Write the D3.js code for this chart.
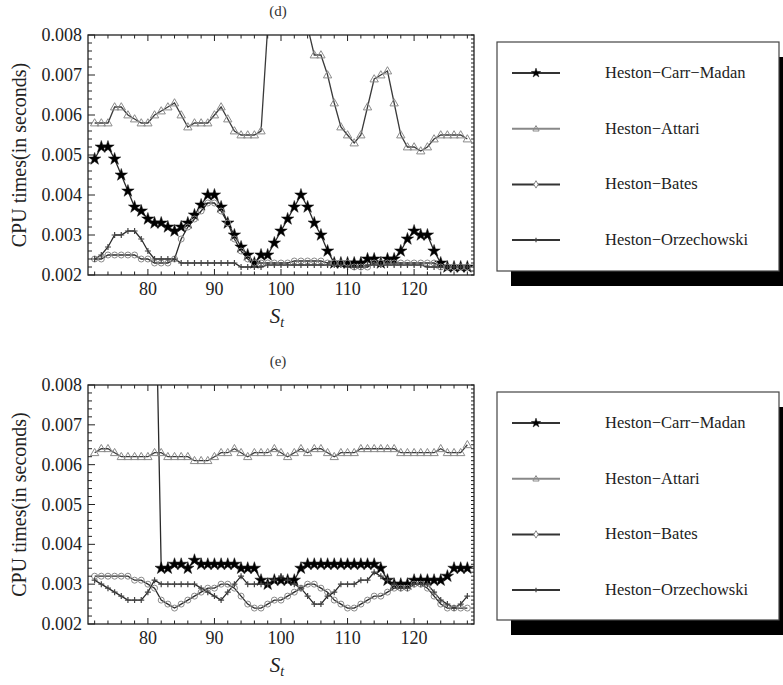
<!DOCTYPE html>
<html>
<head>
<meta charset="utf-8">
<script src="https://cdnjs.cloudflare.com/ajax/libs/d3/7.8.5/d3.min.js"></script>
<style>
body { margin: 0; background: #fff; }
svg { display: block; }
text { font-family: "Liberation Serif", "DejaVu Serif", serif; }
</style>
</head>
<body>
<svg id="chart" width="783" height="685"></svg>
<script>

// stock price grid (x values)
var stock = [72,73,74,75,76,77,78,79,80,81,82,83,84,85,86,87,88,89,90,91,92,93,94,95,96,97,98,99,100,
  101,102,103,104,105,106,107,108,109,110,111,112,113,114,115,116,117,118,119,120,121,122,123,124,125,126,127,128];

var seriesNames = ["Heston\u2212Carr\u2212Madan", "Heston\u2212Attari", "Heston\u2212Bates", "Heston\u2212Orzechowski"];
var panelTitles = ["(d)", "(e)"];
var xTicks = [80, 90, 100, 110, 120];
var yTicks = [0.002, 0.003, 0.004, 0.005, 0.006, 0.007, 0.008];

// panel (d)
var carrMadanD = [0.0049,0.0052,0.0052,0.0049,0.0045,0.0041,0.0037,0.0036,0.0034,0.0033,0.0033,0.0032,0.0031,0.0032,0.0033,0.0035,
  0.00375,0.0040,0.0040,0.0037,0.0033,0.0030,0.0027,0.0025,0.0023,0.0025,0.0025,0.0028,0.0031,0.0034,0.0037,0.0040,0.0037,0.0033,
  0.0030,0.0026,0.0023,0.0023,0.0023,0.0023,0.0023,0.0024,0.0024,0.0023,0.0024,0.0024,0.0026,0.0029,0.0031,0.0030,0.0030,0.0026,
  0.0023,0.0022,0.0022,0.0022,0.0022];
var attariD = [0.0058,0.0058,0.0058,0.0062,0.0062,0.0060,0.0059,0.0058,0.0058,0.0060,0.0061,0.0062,0.0063,0.0060,0.0057,0.0058,
  0.0058,0.0058,0.0060,0.0062,0.0059,0.0056,0.0055,0.0055,0.0055,0.0056,0.0082,0.0120,0.0120,0.0120,0.0120,0.0120,0.0082,0.0075,
  0.0075,0.0070,0.0063,0.0057,0.0055,0.0053,0.0055,0.0062,0.0069,0.0070,0.0071,0.0063,0.0055,0.0052,0.0052,0.0051,0.0052,0.0054,
  0.0055,0.0055,0.0055,0.0055,0.0054];
var batesD = [0.0024,0.0024,0.0025,0.0025,0.0025,0.0025,0.0025,0.0024,0.0024,0.0023,0.0023,0.0023,0.0024,0.0029,0.0032,0.0034,
  0.0036,0.0038,0.0038,0.0036,0.0033,0.0029,0.0026,0.0024,0.0023,0.0023,0.0023,0.0023,0.0023,0.0023,0.00235,0.00235,0.00235,0.00235,
  0.00235,0.0023,0.0023,0.0023,0.0023,0.0022,0.0022,0.0022,0.0023,0.0023,0.0023,0.0023,0.0023,0.0023,0.0023,0.0023,0.0023,0.0023,
  0.0022,0.0022,0.0022,0.0022,0.0022];
var orzD = [0.0024,0.0025,0.0027,0.0030,0.0030,0.0031,0.0031,0.0029,0.0026,0.0024,0.0024,0.0024,0.0024,0.0023,0.0023,0.0023,
  0.0023,0.0023,0.0023,0.0023,0.0023,0.0023,0.0022,0.0022,0.0022,0.0022,0.00225,0.00225,0.00225,0.00225,0.00225,0.00225,0.00225,0.00225,
  0.00225,0.00225,0.00225,0.00225,0.0022,0.0022,0.0022,0.00225,0.00225,0.00225,0.00225,0.00225,0.00225,0.00225,0.00225,0.00225,0.0022,
  0.0022,0.0022,0.0022,0.0022,0.0022,0.0022];

// panel (e)
var carrMadanE = [0.012,0.012,0.012,0.012,0.012,0.012,0.012,0.012,0.012,0.012,0.0034,0.0034,0.0035,0.0035,0.0034,0.0036,
  0.0035,0.0035,0.0035,0.0035,0.0035,0.0035,0.0034,0.0034,0.0034,0.0031,0.0030,0.0031,0.0031,0.0031,0.0031,0.0034,0.0035,0.0035,
  0.0035,0.0035,0.0035,0.0035,0.0035,0.0035,0.0035,0.0035,0.0035,0.0034,0.0031,0.0030,0.0030,0.0030,0.0031,0.0031,0.0031,0.0031,
  0.0031,0.0032,0.0034,0.0034,0.0034];
var attariE = [0.0063,0.0064,0.0064,0.0063,0.0062,0.0062,0.0062,0.0062,0.0062,0.0063,0.0063,0.0062,0.0062,0.0062,0.0062,0.0061,
  0.0061,0.0061,0.0062,0.0063,0.0063,0.0064,0.0063,0.0062,0.0063,0.0063,0.0063,0.0064,0.0063,0.0062,0.0063,0.0064,0.0063,0.0064,
  0.0064,0.0063,0.0062,0.0063,0.0063,0.0063,0.0064,0.0064,0.0064,0.0064,0.0064,0.0064,0.0063,0.0063,0.0063,0.0063,0.0063,0.0063,
  0.0064,0.0063,0.0063,0.0063,0.0065];
var batesE = [0.0032,0.0032,0.0032,0.0032,0.0032,0.0032,0.0031,0.0031,0.0030,0.0029,0.0026,0.0025,0.0024,0.0025,0.0026,0.0027,
  0.0028,0.0029,0.0029,0.0030,0.0030,0.0029,0.0027,0.0025,0.0024,0.0024,0.0025,0.0026,0.0026,0.0027,0.0028,0.0029,0.0030,0.0030,
  0.0029,0.0028,0.0026,0.0025,0.0024,0.0024,0.0025,0.0026,0.0027,0.0027,0.0028,0.0029,0.0029,0.0029,0.0030,0.0030,0.0029,0.0027,
  0.0025,0.0024,0.0024,0.0024,0.0024];
var orzE = [0.0031,0.0030,0.0029,0.0028,0.0027,0.0026,0.0026,0.0026,0.0028,0.0031,0.0030,0.0030,0.0030,0.0030,0.0030,0.0030,
  0.0029,0.0028,0.0027,0.0026,0.0028,0.0030,0.0032,0.0030,0.0030,0.0030,0.0030,0.0031,0.0032,0.0031,0.0030,0.0029,0.0027,0.0025,
  0.0025,0.0027,0.0028,0.0030,0.0030,0.0030,0.0031,0.0031,0.0033,0.0032,0.0031,0.0030,0.0029,0.0029,0.0030,0.0030,0.0030,0.0028,
  0.0026,0.0025,0.0024,0.0025,0.0027];

var panels = [
  { title: panelTitles[0], top: 35, bottom: 275, series: [carrMadanD, attariD, batesD, orzD] },
  { title: panelTitles[1], top: 385, bottom: 624, series: [carrMadanE, attariE, batesE, orzE] }
];

var left = 88, right = 474;
var legX = 497, legW = 282;

var svg = d3.select("#chart");
var x = d3.scaleLinear().domain([71, 129]).range([left, right]);

var markerKinds = ["star", "triangle", "circle", "plus"];

function drawMarker(g, kind, cx, cy, small) {
    var k = small ? 0.75 : 1;
    if (kind == "star") {
        g.append("path").attr("d", d3.symbol(d3.symbolStar, 48 * k * k)())
            .attr("transform", "translate(" + cx + "," + cy + ")")
            .attr("fill", "#000").attr("stroke", "#111").attr("stroke-width", 0.5);
    } else if (kind == "triangle") {
        g.append("path").attr("d", d3.symbol(d3.symbolTriangle, 30 * k * k)())
            .attr("transform", "translate(" + cx + "," + (cy + 0.5) + ")")
            .attr("fill", "none").attr("stroke", "#8a8a8a").attr("stroke-width", 1);
    } else if (kind == "circle") {
        if (small) {
            g.append("path").attr("d", d3.symbol(d3.symbolDiamond, 16)())
                .attr("transform", "translate(" + cx + "," + cy + ")")
                .attr("fill", "#fff").attr("stroke", "#888").attr("stroke-width", 1);
        } else {
            g.append("circle").attr("cx", cx).attr("cy", cy).attr("r", 3)
                .attr("fill", "none").attr("stroke", "#8a8a8a").attr("stroke-width", 1);
        }
    } else {
        var s = 3 * k;
        g.append("path").attr("d", "M" + (cx - s) + "," + cy + "H" + (cx + s) + "M" + cx + "," + (cy - s) + "V" + (cy + s))
            .attr("stroke", "#444").attr("stroke-width", 1.2);
    }
}

panels.forEach(function (p, pi) {
    var y = d3.scaleLinear().domain([0.002, 0.008]).range([p.bottom, p.top]);
    var g = svg.append("g");

    // title
    g.append("text").attr("x", 278).attr("y", p.top - 19).attr("text-anchor", "middle")
        .attr("font-size", 15).attr("fill", "#333").text(p.title);

    var clipId = "clip" + pi;
    svg.append("clipPath").attr("id", clipId).append("rect")
        .attr("x", left).attr("y", p.top).attr("width", right - left).attr("height", p.bottom - p.top);

    var plot = g.append("g").attr("clip-path", "url(#" + clipId + ")");
    var line = d3.line().x(function (d, i) { return x(stock[i]); }).y(function (d) { return y(d); });

    // lines first, then markers
    p.series.forEach(function (vals, si) {
        plot.append("path").datum(vals).attr("d", line)
            .attr("fill", "none").attr("stroke", si == 1 ? "#3a3a3a" : "#2a2a2a").attr("stroke-width", 1.3);
    });
    p.series.forEach(function (vals, si) {
        vals.forEach(function (v, i) {
            if (v > 0.0082) return;
            drawMarker(plot, markerKinds[si], x(stock[i]), y(v), false);
        });
    });

    // frame
    g.append("rect").attr("x", left).attr("y", p.top).attr("width", right - left).attr("height", p.bottom - p.top)
        .attr("fill", "none").attr("stroke", "#222").attr("stroke-width", 1.3);

    // x ticks (bottom and top, inward)
    var xMinor = d3.range(72, 129, 2);
    xMinor.forEach(function (t) {
        var major = t % 10 == 0;
        var len = major ? 6 : 3.5;
        g.append("line").attr("x1", x(t)).attr("x2", x(t)).attr("y1", p.bottom).attr("y2", p.bottom - len)
            .attr("stroke", "#222").attr("stroke-width", 1);
        g.append("line").attr("x1", x(t)).attr("x2", x(t)).attr("y1", p.top).attr("y2", p.top + len)
            .attr("stroke", "#222").attr("stroke-width", 1);
    });
    xTicks.forEach(function (t) {
        g.append("text").attr("x", x(t)).attr("y", p.bottom + 20).attr("text-anchor", "middle")
            .attr("font-size", 18).attr("fill", "#222").text(t);
    });

    // y ticks
    var yMinor = d3.range(0, 31).map(function (k) { return 0.002 + k * 0.0002; });
    yMinor.forEach(function (t, k) {
        var major = k % 5 == 0;
        var len = major ? 7 : 4;
        g.append("line").attr("x1", left).attr("x2", left + len).attr("y1", y(t)).attr("y2", y(t))
            .attr("stroke", "#222").attr("stroke-width", 1);
    });
    var yFine = d3.range(0, 61).map(function (k) { return 0.002 + k * 0.0001; });
    yFine.forEach(function (t) {
        g.append("line").attr("x1", right).attr("x2", right - 3).attr("y1", y(t)).attr("y2", y(t))
            .attr("stroke", "#222").attr("stroke-width", 1);
    });
    yTicks.forEach(function (t) {
        g.append("text").attr("x", 82).attr("y", y(t) + 6).attr("text-anchor", "end")
            .attr("font-size", 18).attr("fill", "#222").text(d3.format(".3f")(t));
    });

    // axis titles
    g.append("text").attr("transform", "translate(26," + ((p.top + p.bottom) / 2) + ") rotate(-90)")
        .attr("text-anchor", "middle").attr("font-size", 20).attr("fill", "#222").text("CPU times(in seconds)");
    var st = g.append("text").attr("x", 277).attr("y", p.bottom + 48).attr("text-anchor", "middle")
        .attr("font-size", 21).attr("fill", "#222").attr("font-style", "italic");
    st.append("tspan").text("S");
    st.append("tspan").attr("font-size", 14).attr("dy", 4).text("t");

    // legend
    var legTop = p.top + 7;
    var legH = p.bottom - p.top - 11;
    g.append("rect").attr("x", legX + 14).attr("y", legTop + 15).attr("width", legW).attr("height", legH).attr("fill", "#000");
    g.append("rect").attr("x", legX).attr("y", legTop).attr("width", legW).attr("height", legH)
        .attr("fill", "#fff").attr("stroke", "#444").attr("stroke-width", 1.2);
    seriesNames.forEach(function (name, si) {
        var ry = legTop + 31 + si * 55.7;
        g.append("line").attr("x1", 512).attr("x2", 560).attr("y1", ry).attr("y2", ry)
            .attr("stroke", si == 1 ? "#888" : "#333").attr("stroke-width", 2);
        drawMarker(g, markerKinds[si], 536, ry, true);
        g.append("text").attr("x", 605).attr("y", ry + 5).attr("font-size", 16.5).attr("fill", "#222").text(name);
    });
});

</script>
</body>
</html>
